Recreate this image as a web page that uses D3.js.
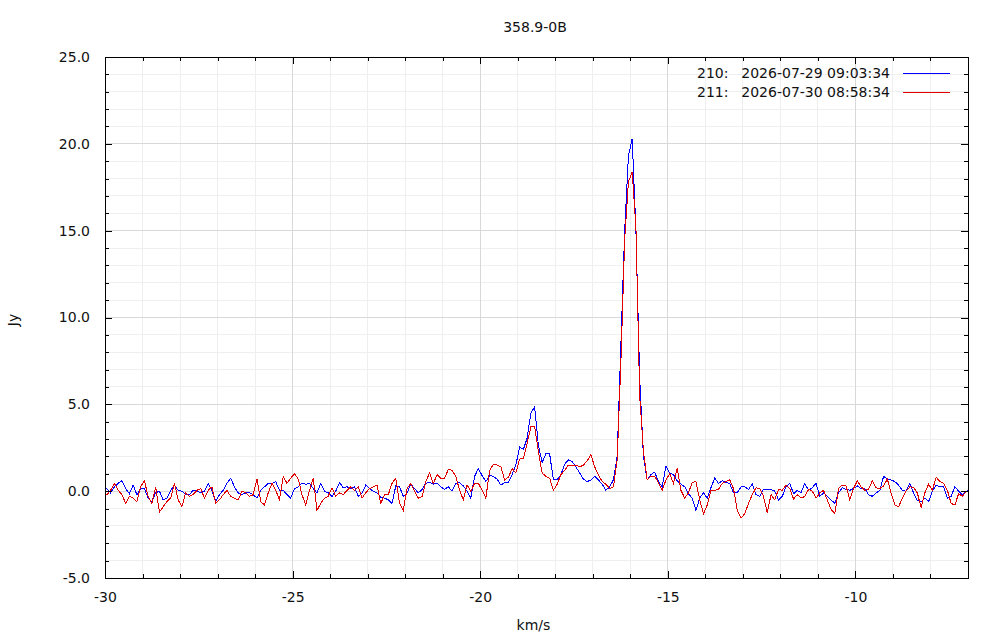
<!DOCTYPE html>
<html>
<head>
<meta charset="utf-8">
<script src="https://cdn.jsdelivr.net/npm/d3@7"></script>
<style>
  body { margin: 0; background: #fff; }
  svg text { font-family: "DejaVu Sans", sans-serif; font-size: 14px; fill: #111; }
</style>
</head>
<body>
<svg id="spec" width="1000" height="640"></svg>
<script>
// channel grid (km/s)
var velStart = -30.05,
    velStep = 0.1;

// scan 210, Jy per channel
var scan210 = [0.1,
  0.15, -0.1, 0.25, 0.45, 0.6, 0.15, -0.15, 0.35, -0.2, 0.15,
  0.15, -0.4, -0.6, -0.1, 0.0, -0.5, -0.4, 0.05, 0.35, 0.05,
  0.0, -0.2, -0.2, 0.05, 0.0, -0.1, 0.0, 0.45, 0.05, -0.6,
  -0.2, 0.05, 0.45, 0.75, 0.25, -0.1, -0.2, -0.1, -0.1, -0.2,
  -0.4, 0.05, 0.25, 0.45, 0.45, 0.55, 0.05, 0.05, -0.2, -0.4,
  0.15, 0.25, 0.45, 0.4, 0.45, 0.15, -0.1, 0.45, 0.0, -0.1,
  -0.3, 0.0, 0.5, 0.2, 0.25, 0.15, 0.25, -0.3, -0.1, 0.35,
  0.15, 0.0, -0.1, -0.35, -0.4, -0.5, -0.7, 0.3, 0.25, -0.3,
  -0.1, 0.4, 0.15, -0.1, 0.1, 0.45, 0.5, 0.4, 0.45, 0.25,
  0.1, 0.25, 0.0, 0.45, 0.5, 0.3, 0.0, -0.4, 0.85, 1.3,
  0.9, 0.55, 0.9, 0.85, 0.7, 0.35, 0.5, 0.5, 0.95, 1.5,
  2.55, 2.4, 3.05, 4.5, 4.85, 2.65, 1.65, 2.15, 2.15, 0.65,
  0.65, 0.95, 1.55, 1.8, 1.7, 1.4, 1.05, 0.7, 0.55, 0.65,
  0.85, 0.65, 0.4, 0.05, 0.25,
  0.65, 2.0, 8.5, 15.0, 19.3, 20.3, 15.0, 6.5, 2.0, 0.65, 0.95,
  1.1, 0.55, 0.25, 1.45, 1.05, 0.95, 0.6, 0.4, 0.25, -0.15,
  -0.4, -1.1, -0.4, -0.1, -0.4, 0.2, 0.75, 0.45, 0.6, 0.5,
  0.45, -0.1, -0.1, 0.25, 0.25, 0.1, 0.4, -0.2, -0.3, 0.1,
  0.1, 0.1, 0.0, -0.5, -0.3, 0.25, 0.45, -0.15, 0.05, -0.1,
  0.45, 0.05, 0.2, 0.45, -0.3, -0.1, -0.3, -0.5, -0.7, -0.1,
  0.2, 0.1, 0.05, 0.15, 0.3, 0.15, 0.15, -0.2, -0.3, -0.1,
  0.05, 0.85, 0.7, 0.65, 0.55, 0.35, 0.05, 0.0, 0.45, -0.1,
  -0.55, -0.6, -0.4, -0.6, 0.0, 0.35, 0.25, 0.25, -0.4, -0.3,
  0.25, 0.0, -0.2, 0.0, 0.05];

// scan 211, Jy per channel
var scan211 = [-0.3,
  -0.2, 0.05, 0.45, 0.05, -0.2, -0.7, -0.3, -0.4, -0.6, 0.25,
  0.6, -0.3, -0.7, 0.25, -1.2, -0.9, -0.6, -0.4, 0.45, -0.5,
  -0.9, -0.1, -0.3, -0.2, 0.05, 0.15, -0.4, 0.05, 0.25, -0.7,
  -0.5, -0.2, 0.05, -0.3, -0.4, -0.5, 0.0, -0.1, -0.3, -0.2,
  0.7, -0.6, -0.8, -0.1, 0.45, 0.05, -0.5, 0.85, 0.45, 0.75,
  1.0, 0.7, -0.2, -0.8, 0.05, 0.75, -1.1, -0.7, -0.4, -0.3,
  0.2, -0.3, -0.1, -0.2, 0.05, 0.25, 0.05, 0.25, -0.4, -0.1,
  0.15, 0.25, 0.35, -0.7, -0.2, -0.2, 0.45, 0.75, -0.7, -1.1,
  0.15, 0.45, 0.0, -0.4, -0.3, 0.55, 1.05, 0.45, 0.95, 0.75,
  0.75, 1.25, 1.2, 0.85, 0.05, -0.5, 0.35, 0.0, 0.45, 0.45,
  0.05, -0.4, 1.2, 1.55, 1.5, 1.4, 0.65, 0.8, 1.3, 1.05,
  1.85, 1.9, 2.75, 3.7, 3.7, 2.3, 1.05, 0.85, 0.75, 0.05,
  0.4, 0.95, 1.2, 1.5, 1.45, 1.5, 1.4, 1.5, 1.75, 2.1,
  1.4, 0.95, 0.55, 0.4, 0.15,
  0.25, 1.8, 7.5, 14.5, 17.8, 18.4, 15.2, 5.5, 2.3, 0.65, 0.85,
  0.85, 0.5, 0.05, 0.65, 1.0, 0.45, 1.3, 0.05, -0.4, -0.1,
  0.5, 0.55, -0.5, -1.3, -0.8, 0.05, 0.05, 0.1, 0.45, 0.55,
  0.65, 0.15, -1.1, -1.55, -1.3, -0.7, -0.2, 0.2, 0.15, -0.3,
  -1.25, -0.2, -0.5, 0.1, 0.05, 0.35, 0.15, -0.45, -0.2, -0.4,
  -0.3, 0.1, 0.0, -0.4, -0.1, 0.05, -0.5, -1.05, -1.3, 0.15,
  0.35, 0.3, -0.5, 0.15, 0.6, 0.25, 0.05, 0.1, 0.6, 0.2,
  0.15, 0.3, 0.7, -0.1, -0.8, -0.9, -0.4, 0.0, 0.25, 0.2,
  -0.1, -0.95, -0.1, 0.4, 0.05, 0.8, 0.55, 0.45, 0.05, -0.7,
  -0.8, -0.15, -0.3, 0.0, -0.1];

var legendIds = ["210:", "211:"],
    legendDates = ["2026-07-29 09:03:34", "2026-07-30 08:58:34"],
    lineColors = ["#0000ff", "#e00000"];

var xMajor = [-30, -25, -20, -15, -10],
    yMajor = [-5, 0, 5, 10, 15, 20, 25];

var svg = d3.select("#spec"),
    margin = {top: 57, right: 32, bottom: 62, left: 105},
    width = +svg.attr("width") - margin.left - margin.right,
    height = +svg.attr("height") - margin.top - margin.bottom;

var x = d3.scaleLinear().domain([-30, -7]).range([0, width]),
    y = d3.scaleLinear().domain([-5, 25]).range([height, 0]);

var xMinor = d3.range(-30, -6, 1),
    yMinor = d3.range(-5, 26, 1);

var g = svg.append("g")
    .attr("transform", "translate(" + margin.left + "," + margin.top + ")");

// grid, minor then major
g.append("g").selectAll("line").data(xMinor).enter().append("line")
    .attr("x1", x).attr("x2", x).attr("y1", 0).attr("y2", height)
    .attr("stroke", "#efefef").attr("shape-rendering", "crispEdges");
g.append("g").selectAll("line").data(yMinor).enter().append("line")
    .attr("y1", y).attr("y2", y).attr("x1", 0).attr("x2", width)
    .attr("stroke", "#efefef").attr("shape-rendering", "crispEdges");
g.append("g").selectAll("line").data(xMajor).enter().append("line")
    .attr("x1", x).attr("x2", x).attr("y1", 0).attr("y2", height)
    .attr("stroke", "#d8d8d8").attr("shape-rendering", "crispEdges");
g.append("g").selectAll("line").data(yMajor).enter().append("line")
    .attr("y1", y).attr("y2", y).attr("x1", 0).attr("x2", width)
    .attr("stroke", "#d8d8d8").attr("shape-rendering", "crispEdges");

// spectra
var vel = d3.range(scan210.length).map(function(i) { return velStart + velStep * i; });

g.append("clipPath").attr("id", "clip")
  .append("rect").attr("width", width).attr("height", height);

var line = d3.line()
    .x(function(d, i) { return x(vel[i]); })
    .y(function(d) { return y(d); });

[scan210, scan211].forEach(function(s, k) {
  g.append("path")
      .datum(s)
      .attr("clip-path", "url(#clip)")
      .attr("fill", "none")
      .attr("stroke", lineColors[k])
      .attr("stroke-width", 1)
      .attr("shape-rendering", "crispEdges")
      .attr("d", line);
});

// axes: ticks point inward on all four sides
function fmtX(d) { return String(d); }
function fmtY(d) { return d.toFixed(1); }

function tickAxis(axis, scale, major, minor, tx, ty, fmt) {
  var a = g.append("g").attr("transform", "translate(" + tx + "," + ty + ")");
  a.call(axis(scale).tickValues(minor).tickSize(-4).tickFormat(""));
  var b = g.append("g").attr("transform", "translate(" + tx + "," + ty + ")");
  b.call(axis(scale).tickValues(major).tickSize(-7).tickSizeOuter(0).tickFormat(fmt || ""));
  [a, b].forEach(function(s) {
    s.selectAll("path").attr("stroke", "#000").attr("shape-rendering", "crispEdges");
    s.selectAll("line").attr("stroke", "#000").attr("shape-rendering", "crispEdges");
  });
  return b;
}

var bx = tickAxis(d3.axisBottom, x, xMajor, xMinor, 0, height, fmtX);
bx.selectAll("text").attr("y", 14).attr("font-size", 14);
tickAxis(d3.axisTop, x, xMajor, xMinor, 0, 0, null);
var ly = tickAxis(d3.axisLeft, y, yMajor, yMinor, 0, 0, fmtY);
ly.selectAll("text").attr("x", -15).attr("font-size", 14);
tickAxis(d3.axisRight, y, yMajor, yMinor, width, 0, null);

svg.selectAll(".tick text")
    .style("font-family", "'DejaVu Sans', sans-serif")
    .attr("fill", "#111");

// labels
svg.append("text")
    .attr("x", 535).attr("y", 32)
    .attr("text-anchor", "middle")
    .text("358.9-0B");

svg.append("text")
    .attr("x", margin.left + width / 2 - 3).attr("y", 630)
    .attr("text-anchor", "middle")
    .text("km/s");

svg.append("text")
    .attr("transform", "translate(18,320) rotate(-90)")
    .attr("text-anchor", "middle")
    .text("Jy");

// legend
var leg = svg.append("g");
legendIds.forEach(function(id, i) {
  var yy = 73 + i * 19;
  leg.append("text").attr("x", 697).attr("y", yy + 5).text(id);
  leg.append("text").attr("x", 890).attr("y", yy + 5)
      .attr("text-anchor", "end").text(legendDates[i]);
  leg.append("line")
      .attr("x1", 903).attr("x2", 950).attr("y1", yy + 0.5).attr("y2", yy + 0.5)
      .attr("stroke", lineColors[i]).attr("stroke-width", 1);
});
</script>
</body>
</html>
